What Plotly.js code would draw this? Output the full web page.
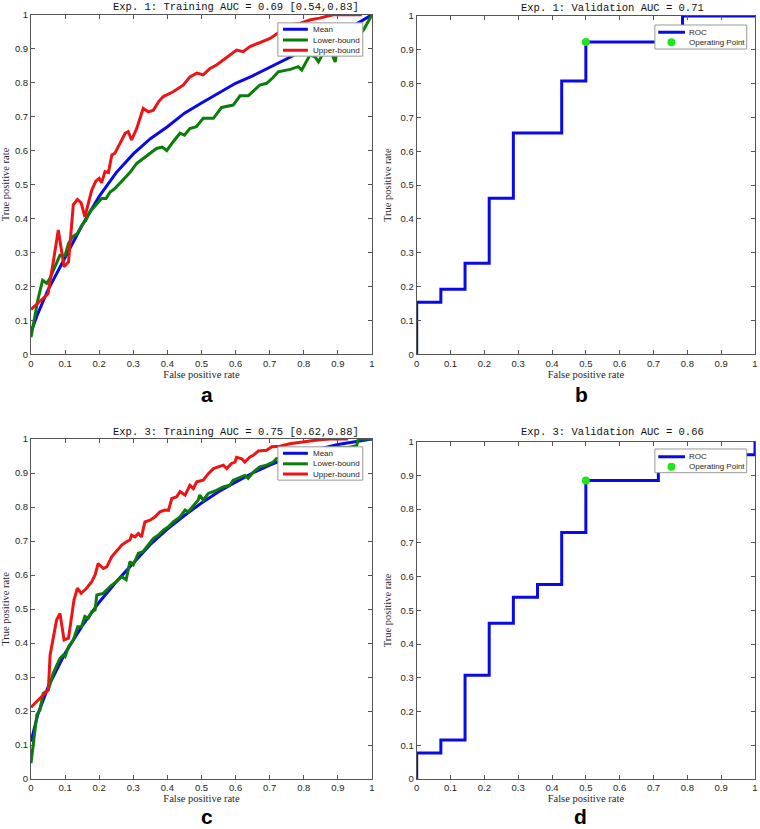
<!DOCTYPE html>
<html>
<head>
<meta charset="utf-8">
<script src="https://cdn.plot.ly/plotly-3.0.1.min.js"></script>
<style>
html,body{margin:0;padding:0;background:#fff;}
#chart{width:760px;height:829px;}
</style>
</head>
<body>
<div id="chart"></div>
<script>
// ---------- DATA ----------
// Panel a: Exp. 1 training ROC (mean, lower-bound, upper-bound)
const expA_meanX = [0, 0.02, 0.05, 0.1, 0.15, 0.2, 0.25, 0.3, 0.35, 0.4, 0.45, 0.5, 0.55, 0.6, 0.65, 0.7, 0.75, 0.8, 0.85, 0.9, 0.95, 1];
const expA_meanY = [0.065, 0.12, 0.19, 0.285, 0.38, 0.465, 0.535, 0.59, 0.635, 0.67, 0.71, 0.74, 0.77, 0.798, 0.82, 0.845, 0.87, 0.895, 0.92, 0.945, 0.97, 1.0];
const expA_lowerX = [0, 0.01, 0.02, 0.034, 0.046, 0.055, 0.07, 0.085, 0.1, 0.11, 0.122, 0.136, 0.149, 0.161, 0.173, 0.193, 0.207, 0.22, 0.232, 0.246, 0.266, 0.29, 0.31, 0.33, 0.35, 0.368, 0.385, 0.398, 0.417, 0.437, 0.45, 0.466, 0.485, 0.505, 0.535, 0.559, 0.593, 0.613, 0.637, 0.671, 0.691, 0.71, 0.725, 0.76, 0.784, 0.794, 0.818, 0.833, 0.843, 0.853, 0.867, 0.88, 0.892, 0.901, 0.93, 0.955, 0.975, 1.0];
const expA_lowerY = [0.05, 0.11, 0.16, 0.218, 0.209, 0.223, 0.26, 0.292, 0.292, 0.326, 0.346, 0.356, 0.38, 0.395, 0.42, 0.444, 0.459, 0.459, 0.478, 0.488, 0.508, 0.535, 0.562, 0.577, 0.59, 0.606, 0.61, 0.60, 0.626, 0.651, 0.645, 0.665, 0.67, 0.695, 0.695, 0.727, 0.734, 0.761, 0.761, 0.793, 0.798, 0.815, 0.832, 0.839, 0.847, 0.837, 0.881, 0.876, 0.861, 0.881, 0.906, 0.89, 0.861, 0.916, 0.92, 0.935, 0.955, 1.0];
const expA_upperX = [0, 0.025, 0.046, 0.05, 0.065, 0.08, 0.097, 0.11, 0.124, 0.136, 0.147, 0.158, 0.178, 0.19, 0.2, 0.207, 0.217, 0.227, 0.237, 0.246, 0.261, 0.276, 0.285, 0.295, 0.31, 0.329, 0.344, 0.359, 0.375, 0.388, 0.417, 0.447, 0.466, 0.486, 0.505, 0.525, 0.544, 0.564, 0.583, 0.603, 0.622, 0.642, 0.671, 0.701, 0.73, 0.76, 0.79, 0.82, 0.846, 0.886, 0.925, 0.97];
const expA_upperY = [0.132, 0.155, 0.172, 0.178, 0.27, 0.366, 0.258, 0.272, 0.44, 0.456, 0.446, 0.405, 0.483, 0.51, 0.518, 0.505, 0.538, 0.535, 0.587, 0.592, 0.621, 0.651, 0.656, 0.631, 0.665, 0.724, 0.714, 0.719, 0.745, 0.759, 0.773, 0.793, 0.817, 0.828, 0.823, 0.842, 0.852, 0.867, 0.881, 0.896, 0.891, 0.906, 0.918, 0.93, 0.95, 0.97, 0.975, 0.985, 0.99, 1.0, 1.0, 1.0];

// Panel b: Exp. 1 validation ROC (step) + operating point
const expB_rocX = [0, 0, 0.0714, 0.1429, 0.2143, 0.2857, 0.4286, 0.5, 0.7857, 1.0];
const expB_rocY = [0, 0.1538, 0.1923, 0.2692, 0.4615, 0.6538, 0.8077, 0.9231, 1.0, 1.0];
const expB_opX = [0.5];
const expB_opY = [0.9231];

// Panel c: Exp. 3 training ROC
const expC_meanX = [0, 0.02, 0.05, 0.1, 0.15, 0.2, 0.25, 0.3, 0.35, 0.4, 0.45, 0.5, 0.55, 0.6, 0.65, 0.7, 0.75, 0.8, 0.85, 0.9, 0.95, 1];
const expC_meanY = [0.11, 0.19, 0.27, 0.37, 0.45, 0.52, 0.58, 0.635, 0.69, 0.735, 0.775, 0.812, 0.845, 0.873, 0.9, 0.923, 0.943, 0.96, 0.973, 0.984, 0.992, 1.0];
const expC_lowerX = [0, 0.017, 0.026, 0.036, 0.051, 0.065, 0.085, 0.095, 0.1, 0.11, 0.124, 0.137, 0.148, 0.158, 0.168, 0.178, 0.188, 0.193, 0.212, 0.232, 0.251, 0.266, 0.279, 0.29, 0.3, 0.315, 0.329, 0.344, 0.359, 0.373, 0.388, 0.403, 0.417, 0.437, 0.452, 0.461, 0.476, 0.49, 0.495, 0.505, 0.52, 0.544, 0.564, 0.583, 0.593, 0.613, 0.627, 0.637, 0.652, 0.671, 0.691, 0.71, 0.72, 0.76, 0.8, 0.85, 0.9, 0.93, 0.955, 0.96, 1.0];
const expC_lowerY = [0.046, 0.188, 0.203, 0.252, 0.262, 0.311, 0.355, 0.365, 0.36, 0.389, 0.409, 0.448, 0.448, 0.478, 0.473, 0.492, 0.497, 0.541, 0.546, 0.566, 0.581, 0.595, 0.586, 0.639, 0.63, 0.664, 0.669, 0.688, 0.708, 0.717, 0.732, 0.742, 0.756, 0.771, 0.791, 0.786, 0.805, 0.82, 0.835, 0.82, 0.84, 0.849, 0.859, 0.864, 0.879, 0.888, 0.893, 0.884, 0.903, 0.918, 0.923, 0.932, 0.942, 0.95, 0.96, 0.97, 0.975, 0.975, 0.98, 1.0, 1.0];
const expC_upperX = [0, 0.051, 0.056, 0.075, 0.085, 0.097, 0.11, 0.12, 0.126, 0.136, 0.147, 0.163, 0.178, 0.188, 0.197, 0.212, 0.222, 0.237, 0.251, 0.266, 0.28, 0.29, 0.295, 0.305, 0.315, 0.324, 0.334, 0.349, 0.364, 0.378, 0.393, 0.403, 0.413, 0.427, 0.437, 0.452, 0.466, 0.476, 0.486, 0.505, 0.52, 0.535, 0.549, 0.564, 0.574, 0.588, 0.598, 0.603, 0.618, 0.627, 0.642, 0.652, 0.667, 0.681, 0.691, 0.706, 0.73, 0.759, 0.789, 0.818, 0.848, 0.877, 0.93];
const expC_upperY = [0.211, 0.262, 0.365, 0.468, 0.487, 0.409, 0.414, 0.487, 0.526, 0.561, 0.546, 0.561, 0.58, 0.6, 0.634, 0.619, 0.624, 0.654, 0.669, 0.688, 0.698, 0.703, 0.717, 0.712, 0.722, 0.712, 0.756, 0.761, 0.771, 0.786, 0.791, 0.79, 0.825, 0.83, 0.845, 0.835, 0.864, 0.854, 0.874, 0.879, 0.898, 0.913, 0.918, 0.923, 0.913, 0.928, 0.932, 0.946, 0.942, 0.932, 0.947, 0.952, 0.965, 0.967, 0.967, 0.977, 0.979, 0.986, 0.991, 0.994, 0.998, 1.0, 1.0];

// Panel d: Exp. 3 validation ROC (step) + operating point
const expD_rocX = [0, 0, 0.0714, 0.1429, 0.2143, 0.2857, 0.3571, 0.4286, 0.5, 0.7143, 1.0];
const expD_rocY = [0, 0.0769, 0.1154, 0.3077, 0.4615, 0.5385, 0.5769, 0.7308, 0.8846, 0.9615, 1.0];
const expD_opX = [0.5];
const expD_opY = [0.8846];

// Text
const panelTitles = ["Exp. 1: Training AUC = 0.69 [0.54,0.83]", "Exp. 1: Validation AUC = 0.71",
                     "Exp. 3: Training AUC = 0.75 [0.62,0.88]", "Exp. 3: Validation AUC = 0.66"];
const panelLetters = ["a", "b", "c", "d"];
const trainNames = ["Mean", "Lower-bound", "Upper-bound"];
const valNames = ["ROC", "Operating Point"];
const xTitle = "False positive rate";
const yTitle = "True positive rate";

// ---------- STYLE ----------
const W = 760, H = 829;
const BLUE = "#0a0ae6", GREEN = "#0b7d0b", RED = "#ec1414", OPG = "#1ee61e";
const AXC = "#555555", TXC = "#262626";
const LW = 3;
const px = v => v / W;
const py = v => 1 - v / H;

function axisBase(domain, anchor, isX) {
  return {
    domain: domain, anchor: anchor, range: [0, 1], tick0: 0, dtick: 0.1,
    ticks: "inside", ticklen: 4, tickwidth: 1, tickcolor: AXC,
    showline: true, linecolor: AXC, linewidth: 1, mirror: "ticks",
    showgrid: false, zeroline: false, fixedrange: true,
    tickfont: {family: "Liberation Sans, Arial, sans-serif", size: 9.5, color: TXC},
    title: {text: isX ? xTitle : yTitle,
            font: {family: "Liberation Serif, Times New Roman, serif", size: 10.5, color: TXC},
            standoff: isX ? 1 : 6}
  };
}

function line(x, y, xa, ya, color, name, shape) {
  return {x: x, y: y, xaxis: xa, yaxis: ya, type: "scatter", mode: "lines", name: name,
          line: {color: color, width: LW, shape: shape || "linear"}, hoverinfo: "skip"};
}
function pts(x, y, xa, ya, name) {
  return {x: x, y: y, xaxis: xa, yaxis: ya, type: "scatter", mode: "markers", name: name,
          marker: {color: OPG, size: 8}, hoverinfo: "skip", cliponaxis: false};
}

const traces = [
  line(expA_meanX, expA_meanY, "x", "y", BLUE, trainNames[0]),
  line(expA_lowerX, expA_lowerY, "x", "y", GREEN, trainNames[1]),
  line(expA_upperX, expA_upperY, "x", "y", RED, trainNames[2]),
  line(expB_rocX, expB_rocY, "x2", "y2", BLUE, valNames[0], "hv"),
  pts(expB_opX, expB_opY, "x2", "y2", valNames[1]),
  line(expC_meanX, expC_meanY, "x3", "y3", BLUE, trainNames[0]),
  line(expC_lowerX, expC_lowerY, "x3", "y3", GREEN, trainNames[1]),
  line(expC_upperX, expC_upperY, "x3", "y3", RED, trainNames[2]),
  line(expD_rocX, expD_rocY, "x4", "y4", BLUE, valNames[0], "hv"),
  pts(expD_opX, expD_opY, "x4", "y4", valNames[1])
];

// legend boxes (drawn with shapes so their size matches the original)
const shapes = [];
const annotations = [];
function legendTrain(xr, yr, box, rows) {
  shapes.push({type: "rect", xref: xr, yref: yr, x0: box[0], x1: box[1], y0: box[2], y1: box[3],
               fillcolor: "#ffffff", line: {color: "#999999", width: 1}, layer: "above"});
  const cols = [BLUE, GREEN, RED];
  for (let i = 0; i < 3; i++) {
    shapes.push({type: "line", xref: xr, yref: yr, x0: box[0] + 0.015, x1: box[0] + 0.088,
                 y0: rows[i], y1: rows[i], line: {color: cols[i], width: LW}, layer: "above"});
    annotations.push({xref: xr, yref: yr, x: box[0] + 0.098, y: rows[i], text: trainNames[i],
                      showarrow: false, xanchor: "left", yanchor: "middle",
                      font: {family: "Liberation Sans, Arial, sans-serif", size: 8, color: TXC}});
  }
}
function legendVal(xr, yr, box, rows) {
  shapes.push({type: "rect", xref: xr, yref: yr, x0: box[0], x1: box[1], y0: box[2], y1: box[3],
               fillcolor: "#ffffff", line: {color: "#999999", width: 1}, layer: "above"});
  shapes.push({type: "line", xref: xr, yref: yr, x0: box[0] + 0.01, x1: box[0] + 0.089,
               y0: rows[0], y1: rows[0], line: {color: BLUE, width: LW}, layer: "above"});
  shapes.push({type: "circle", xref: xr, yref: yr, xsizemode: "pixel", ysizemode: "pixel",
               xanchor: box[0] + 0.049, yanchor: rows[1], x0: -4, x1: 4, y0: -4, y1: 4,
               fillcolor: OPG, line: {width: 0}, layer: "above"});
  for (let i = 0; i < 2; i++) {
    annotations.push({xref: xr, yref: yr, x: box[0] + 0.096, y: rows[i], text: valNames[i],
                      showarrow: false, xanchor: "left", yanchor: "middle",
                      font: {family: "Liberation Sans, Arial, sans-serif", size: 8, color: TXC}});
  }
}
legendTrain("x", "y", [0.724, 0.973, 0.878, 0.976], [0.957, 0.9255, 0.895]);
legendTrain("x3", "y3", [0.724, 0.973, 0.879, 0.977], [0.958, 0.927, 0.897]);
legendVal("x2", "y2", [0.704, 0.9755, 0.9024, 0.9734], [0.9518, 0.9222]);
legendVal("x4", "y4", [0.704, 0.9755, 0.9081, 0.9784], [0.9555, 0.9259]);

// panel titles (monospace) and letters
const titlePos = [[235.5, 7.5], [612.5, 8.3], [235.5, 431.7], [612.5, 432.3]];
for (let i = 0; i < 4; i++) {
  annotations.push({xref: "paper", yref: "paper", x: px(titlePos[i][0]), y: py(titlePos[i][1]),
                    text: panelTitles[i], showarrow: false, xanchor: "center", yanchor: "middle",
                    font: {family: "Courier New, Liberation Mono, monospace", size: 10.5, color: "#111111"}});
}
// letters: a, b in the gap between rows; c, d sit on the bottom edge
const letterX = [206.7, 581, 206.7, 580.7];
const letterY = [394.5, 394.7, 829, 829];
const letterAnchor = ["middle", "middle", "bottom", "bottom"];
for (let i = 0; i < 4; i++) {
  annotations.push({xref: "paper", yref: "paper", x: px(letterX[i]), y: py(letterY[i]),
                    text: "<b>" + panelLetters[i] + "</b>", showarrow: false, xanchor: "center",
                    yanchor: letterAnchor[i], borderpad: 0,
                    font: {family: "Liberation Sans, Arial, sans-serif", size: 21, color: "#000000"}});
}

const layout = {
  width: W, height: H,
  margin: {l: 0, r: 0, t: 0, b: 0, pad: 0},
  paper_bgcolor: "#ffffff", plot_bgcolor: "#ffffff",
  showlegend: false,
  xaxis:  axisBase([px(31), px(372)], "y", true),
  yaxis:  axisBase([py(354.3), py(14.7)], "x", false),
  xaxis2: axisBase([px(416.7), px(755)], "y2", true),
  yaxis2: axisBase([py(354.3), py(16)], "x2", false),
  xaxis3: axisBase([px(31), px(372)], "y3", true),
  yaxis3: axisBase([py(779), py(439)], "x3", false),
  xaxis4: axisBase([px(416.7), px(755)], "y4", true),
  yaxis4: axisBase([py(779), py(441.7)], "x4", false),
  shapes: shapes,
  annotations: annotations
};

Plotly.newPlot("chart", traces, layout, {staticPlot: true, displayModeBar: false});
</script>
</body>
</html>
